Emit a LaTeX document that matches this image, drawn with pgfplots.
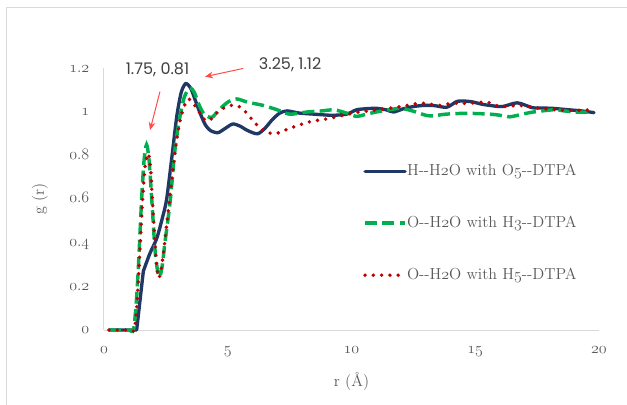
\documentclass[border=0pt]{standalone}
\usepackage{pgfplots}
\pgfplotsset{compat=1.18}
\usepackage{fontspec}
\newfontfamily\annfont{Poppins}
\usetikzlibrary{arrows.meta}
\definecolor{navy}{HTML}{1F3864}
\definecolor{xgreen}{HTML}{00B050}
\definecolor{xred}{HTML}{C00000}
\definecolor{txt}{HTML}{595959}
\definecolor{arr}{HTML}{FF4B4B}
\definecolor{frame}{HTML}{D9D9D9}
\newcommand\os[1]{$\mathnormal{#1}$}
\begin{document}
\begin{tikzpicture}
\useasboundingbox (-78pt,-55.5pt) rectangle (392.25pt,247.5pt);
\draw[frame, line width=0.75pt] (-72.75pt,-60pt) -- (-72.75pt,241.5pt) -- (400pt,241.5pt);
\begin{axis}[
  at={(0,0)}, anchor=south west,
  scale only axis, width=371.25pt, height=196.2pt,
  xmin=0, xmax=20, ymin=0, ymax=1.2,
  axis x line=bottom, axis y line=left,
  axis line style={-, draw=frame, line width=0.75pt},
  major tick length=0pt,
  xtick={0,5,10,15,20},
  xticklabels={\os{0},\os{5},\os{10},\os{15},\os{20}},
  ytick={0,0.2,0.4,0.6,0.8,1,1.2},
  yticklabels={\os{0},\os{0.2},\os{0.4},\os{0.6},\os{0.8},\os{1},\os{1.2}},
  tick label style={font=\fontsize{13}{15}\selectfont, text=txt},
  xticklabel style={anchor=base, yshift=-17.5pt},
  yticklabel style={anchor=base east, xshift=-7.5pt, yshift=-2.8pt},
  xlabel={r (Å)}, ylabel={g (r)},
  label style={font=\fontsize{12}{14}\selectfont, text=txt},
  xlabel style={at={(axis description cs:0.5,-0.195)}, anchor=center},
  ylabel style={at={(axis description cs:-0.1293,0.5)}, anchor=center},
  clip=false,
  legend style={draw=none, fill=none, at={(axis cs:10.46,0.49)}, anchor=west,
    font=\fontsize{12}{14}\selectfont, text=txt, inner sep=0pt, row sep=27pt,
    nodes={inner sep=0pt, text height=9pt, text depth=3pt}},
  legend cell align=left,
  legend image code/.code={\draw[#1] (0pt,0pt) -- (30pt,0pt);},
]
\addplot[navy, line width=2.5pt, line cap=round, line join=round, forget plot] coordinates {
(0.2,0) (0.6,0) (1.0,0) (1.32,0) (1.45,0.13) (1.59,0.27)
};
\addplot[navy, line width=2.5pt, line cap=round, smooth, tension=0.45] coordinates {
(1.59,0.27) (1.85,0.35) (2.13,0.42) (2.35,0.51) (2.53,0.60) (2.75,0.80) (2.94,0.98) (3.12,1.09) (3.3,1.13) (3.5,1.11) (3.7,1.05) (3.9,0.99) (4.1,0.94) (4.3,0.915) (4.6,0.905) (4.9,0.925) (5.2,0.945) (5.5,0.935) (5.8,0.915) (6.2,0.90) (6.5,0.925) (6.8,0.965) (7.1,0.995) (7.4,1.005) (7.9,0.995) (8.5,0.99) (9.2,0.985) (9.8,0.99) (10.2,1.01) (10.6,1.015) (11.0,1.017) (11.4,1.01) (11.7,1.0) (12.1,1.015) (12.5,1.025) (12.9,1.03) (13.3,1.03) (13.85,1.022) (14.25,1.048) (14.6,1.05) (14.9,1.046) (15.3,1.035) (15.6,1.03) (16.1,1.025) (16.7,1.042) (17.3,1.02) (17.7,1.018) (18.1,1.017) (18.8,1.01) (19.3,1.005) (19.8,0.997)
};
\addlegendentry{H-{}-H\os{2}O with O\os{5}-{}-DTPA}
\addplot[xgreen, line width=2.6pt, dash pattern=on 9pt off 4pt, smooth, tension=0.45] coordinates {
(0.2,0) (0.6,0) (1.0,0) (1.19,0) (1.3,0.12) (1.39,0.29) (1.52,0.6) (1.62,0.78) (1.72,0.85) (1.82,0.78) (1.93,0.6) (2.06,0.37) (2.18,0.26) (2.26,0.245) (2.36,0.3) (2.46,0.40) (2.6,0.52) (2.7,0.62) (2.87,0.83) (3.07,0.98) (3.25,1.07) (3.47,1.11) (3.65,1.09) (3.85,1.03) (4.05,0.99) (4.35,0.975) (4.65,1.01) (5.0,1.045) (5.36,1.06) (5.8,1.045) (6.44,1.03) (7.0,1.01) (7.5,0.99) (8.2,1.0) (8.8,1.005) (9.3,1.01) (9.8,0.995) (10.2,0.98) (10.6,0.99) (11.0,1.0) (11.5,1.01) (11.96,1.017) (12.3,1.01) (12.6,1.0) (13.0,0.985) (13.3,0.982) (13.8,0.99) (14.65,0.994) (15.6,0.99) (16.0,0.985) (16.4,0.978) (16.9,0.99) (17.35,1.0) (18.15,1.01) (18.6,1.005) (19.0,1.0) (19.7,1.0)
};
\addlegendentry{O-{}-H\os{2}O with H\os{3}-{}-DTPA}
\addplot[xred, line width=2.9pt, line cap=round, dash pattern=on 0pt off 6.2pt, smooth, tension=0.45] coordinates {
(0.2,0) (0.6,0) (1.0,0) (1.22,0) (1.33,0.12) (1.42,0.3) (1.55,0.58) (1.66,0.75) (1.79,0.81) (1.88,0.74) (1.98,0.55) (2.1,0.33) (2.2,0.24) (2.3,0.27) (2.42,0.37) (2.55,0.50) (2.7,0.65) (2.87,0.82) (3.05,0.95) (3.25,1.03) (3.41,1.06) (3.6,1.04) (3.88,0.995) (4.1,0.96) (4.3,0.965) (4.55,0.995) (4.82,1.017) (5.1,1.03) (5.36,1.03) (5.6,1.015) (5.8,0.99) (6.1,0.95) (6.44,0.915) (6.9,0.90) (7.5,0.925) (8.3,0.955) (9.1,0.97) (9.66,0.985) (10.3,1.0) (11.1,1.01) (12.0,1.025) (12.8,1.04) (13.6,1.03) (14.0,1.04) (14.65,1.04) (15.5,1.045) (16.0,1.025) (16.8,1.03) (17.6,1.017) (18.7,1.007) (19.8,1.01)
};
\addlegendentry{O-{}-H\os{2}O with H\os{5}-{}-DTPA}
\node[font=\annfont\fontsize{12}{14}\selectfont, text=black!75] at (axis cs:2.16,1.196) {1.75, 0.81};
\node[font=\annfont\fontsize{12}{14}\selectfont, text=black!75] at (axis cs:7.52,1.216) {3.25, 1.12};
\draw[arr, line width=0.75pt, -{Stealth[length=6pt,width=5pt]}] (axis cs:2.26,1.093) -- (axis cs:1.86,0.917);
\draw[arr, line width=0.75pt, -{Stealth[length=6pt,width=5pt]}] (axis cs:5.63,1.20) -- (axis cs:4.08,1.162);
\end{axis}
\end{tikzpicture}
\end{document}
